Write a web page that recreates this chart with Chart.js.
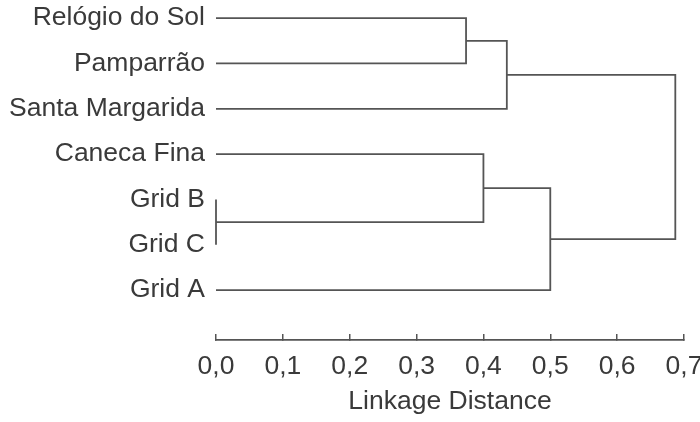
<!DOCTYPE html>
<html>
<head>
<meta charset="utf-8">
<script src="https://cdn.jsdelivr.net/npm/chart.js@4"></script>
<style>
  html, body { margin: 0; padding: 0; background: #fff; }
  #wrap { width: 700px; height: 422px; }
</style>
</head>
<body>
<div id="wrap"><canvas id="dendro"></canvas></div>
<script>
// leaves, top to bottom
const leafNames = ['Relógio do Sol', 'Pamparrão', 'Santa Margarida', 'Caneca Fina', 'Grid B', 'Grid C', 'Grid A'];
// merges: cluster ids 0..6 are leaves, merge k gets id 7+k
const mergeLeft  = [0, 7, 4, 3, 10, 8];
const mergeRight = [1, 2, 5, 9, 6, 11];
const mergeDist  = [0.374, 0.435, 0.0, 0.40, 0.50, 0.687];
const xTicks = [0, 0.1, 0.2, 0.3, 0.4, 0.5, 0.6, 0.7];

const lineColor = '#555';
const textColor = '#3a3a3a';
const font = { family: '"Liberation Sans", Arial, sans-serif', size: 26.5 };

// cluster positions: y = leaf row (or mean of children), d = linkage distance
const posY = leafNames.map((_, i) => i);
const posD = leafNames.map(() => 0);
const datasets = [];
mergeDist.forEach((d, k) => {
  const a = mergeLeft[k], b = mergeRight[k];
  datasets.push({
    data: [
      { x: posD[a], y: posY[a] },
      { x: d, y: posY[a] },
      { x: d, y: posY[b] },
      { x: posD[b], y: posY[b] }
    ],
    showLine: true,
    borderColor: lineColor,
    borderWidth: 1.8,
    pointRadius: 0,
    tension: 0,
    clip: false
  });
  posY.push((posY[a] + posY[b]) / 2);
  posD.push(d);
});

// drop the room chart.js reserves for end labels (the reference lets "0,7" run off the edge)
function noEndPadding(s) {
  s.paddingTop = s.paddingBottom = s.paddingLeft = s.paddingRight = 0;
}

new Chart(document.getElementById('dendro'), {
  type: 'scatter',
  data: { datasets },
  options: {
    responsive: true,
    maintainAspectRatio: false,
    animation: false,
    events: [],
    layout: { autoPadding: false, padding: { left: 0, right: 16, top: 0, bottom: 0 } },
    plugins: { legend: { display: false }, tooltip: { enabled: false } },
    scales: {
      x: {
        type: 'linear',
        min: 0,
        max: 0.7,
        afterBuildTicks: s => { s.ticks = xTicks.map(v => ({ value: v })); },
        afterFit: s => { s.height = 82; noEndPadding(s); },
        grid: { drawOnChartArea: false, drawTicks: true, tickLength: -6, color: lineColor, lineWidth: 1.5 },
        border: { display: true, color: lineColor, width: 1.8 },
        ticks: {
          color: textColor,
          font,
          padding: 17,
          maxRotation: 0,
          autoSkip: false,
          callback: v => v.toFixed(1).replace('.', ',')
        },
        title: {
          display: true,
          text: 'Linkage Distance',
          color: textColor,
          font,
          padding: { top: 0, bottom: 4 }
        }
      },
      y: {
        type: 'linear',
        reverse: true,
        min: -0.4,
        max: 7.1,
        afterBuildTicks: s => { s.ticks = leafNames.map((_, i) => ({ value: i })); },
        afterFit: s => { s.width = 216; noEndPadding(s); },
        grid: { display: false, drawTicks: false },
        border: { display: false },
        ticks: {
          color: textColor,
          font,
          padding: 11,
          autoSkip: false,
          callback: v => leafNames[v]
        }
      }
    }
  }
});
</script>
</body>
</html>
